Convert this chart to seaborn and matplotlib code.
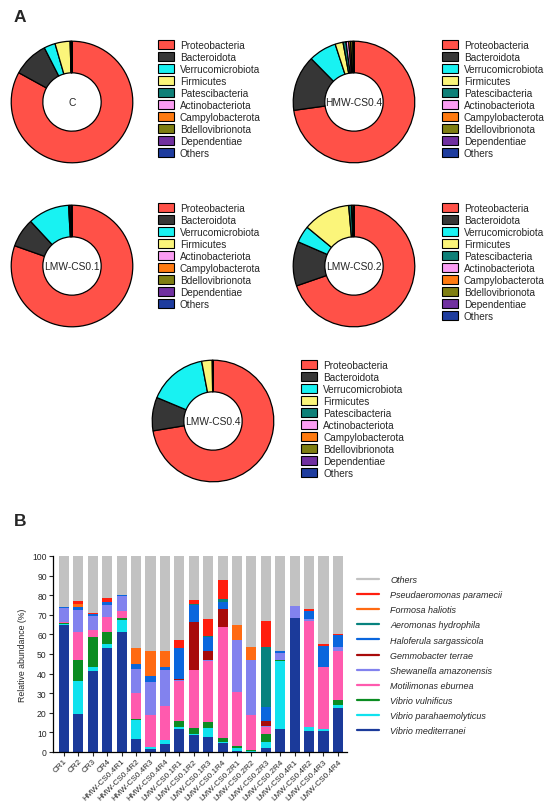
import matplotlib
matplotlib.use("Agg")

import matplotlib.pyplot as plt
import numpy as np
import seaborn as sns
from matplotlib.lines import Line2D
from matplotlib.patches import Patch

W, H = 550, 804

# ---- panel A: phylum composition (donuts) ----
PHYLA = ["Proteobacteria", "Bacteroidota", "Verrucomicrobiota", "Firmicutes",
         "Patescibacteria", "Actinobacteriota", "Campylobacterota",
         "Bdellovibrionota", "Dependentiae", "Others"]
PHYLA_NO_PATES = [p for p in PHYLA if p != "Patescibacteria"]
PHYLUM_COLORS = {
    "Proteobacteria": "#FF5148",
    "Bacteroidota": "#363636",
    "Verrucomicrobiota": "#18F2F2",
    "Firmicutes": "#FBF57A",
    "Patescibacteria": "#0E8078",
    "Actinobacteriota": "#FA9CF2",
    "Campylobacterota": "#FF7A10",
    "Bdellovibrionota": "#7E7E12",
    "Dependentiae": "#7030A0",
    "Others": "#1E3C9E",
}

donut_c = [83.0, 9.5, 3.0, 4.0, 0.2, 0.1, 0.1, 0.1, 0.0, 0.0]
donut_hmw04 = [72.8, 14.8, 7.4, 2.1, 0.8, 0.7, 0.5, 0.6, 0.2, 0.1]
donut_lmw01 = [80.4, 7.7, 11.0, 0.3, 0.0, 0.0, 0.1, 0.4, 0.1]
donut_lmw02 = [69.7, 11.8, 4.5, 12.6, 0.8, 0.1, 0.5, 0.0, 0.0, 0.0]
donut_lmw04 = [72.4, 8.9, 15.7, 2.8, 0.1, 0.0, 0.0, 0.1, 0.0, 0.0]

# ---- panel B: species relative abundance (%) ----
SAMPLES = ["CR1", "CR2", "CR3", "CR4",
           "HMW-CS0.4R1", "HMW-CS0.4R2", "HMW-CS0.4R3", "HMW-CS0.4R4",
           "LMW-CS0.1R1", "LMW-CS0.1R2", "LMW-CS0.1R3", "LMW-CS0.1R4",
           "LMW-CS0.2R1", "LMW-CS0.2R2", "LMW-CS0.2R3", "LMW-CS0.2R4",
           "LMW-CS0.4R1", "LMW-CS0.4R2", "LMW-CS0.4R3", "LMW-CS0.4R4"]

v_mediterranei = [65, 19.5, 41.5, 53, 61, 6.5, 1.5, 4, 11.5, 8.5, 7.8, 4.4, 0.3, 0.2, 1.9, 11.6, 68.3, 10.7, 10.7, 22.7]
v_parahaemolyticus = [0.3, 16.5, 2, 2, 6.5, 10, 0.8, 2.3, 1.5, 0.5, 4.6, 0.5, 1.7, 0.2, 3.0, 34.9, 0, 1.9, 0.9, 1.3]
v_vulnificus = [0.7, 11, 15, 6, 1, 0.3, 0, 0, 3, 3.5, 3.1, 2.1, 1.2, 0.5, 4.1, 0.5, 0, 0.4, 0, 2.4]
m_eburnea = [0.5, 14, 4, 8, 3.5, 13.2, 16.7, 17.2, 20, 29.5, 31, 57, 27.6, 18.1, 3.9, 0, 0, 54, 31.7, 24.9]
s_amazonensis = [7, 11.5, 7, 6, 7.5, 12.5, 16.5, 18.5, 0.5, 0, 0.5, 0, 26.4, 28.1, 0.5, 3.4, 6, 0.8, 0, 2.5]
g_terrae = [0, 0, 0, 0, 0, 0, 0, 0, 0.5, 24.5, 4.3, 9, 0, 0, 2.6, 0, 0, 0, 0, 0]
h_sargassicola = [0.3, 1.5, 0.8, 1.5, 0.5, 2.5, 3.5, 1.5, 16, 8.5, 7.3, 3.3, 0, 0, 6.8, 1.2, 0, 4.2, 11, 5.7]
a_hydrophila = [0, 0, 0, 0, 0, 0, 0, 0, 0, 0.5, 0.7, 1.7, 0, 0, 30.6, 0, 0, 0, 0, 0]
f_haliotis = [0, 1.5, 0.2, 0, 0, 8, 12.5, 8, 0, 0, 0, 0, 7.8, 6.5, 0, 0, 0, 0, 0, 0]
p_paramecii = [0.2, 1.5, 0.5, 2, 0, 0, 0, 0, 4, 2, 8.5, 9.6, 0, 0, 13.6, 0, 0, 1, 0.7, 0.5]
others = [26, 23, 29, 21.5, 20, 47, 48.5, 48.5, 43, 22.5, 32.2, 12.4, 35, 46.4, 33, 48.4, 25.7, 27, 45, 40]

# bottom -> top stacking order
SPECIES = [
    ("Vibrio mediterranei", v_mediterranei, "#1B3A9A"),
    ("Vibrio parahaemolyticus", v_parahaemolyticus, "#10E2EE"),
    ("Vibrio vulnificus", v_vulnificus, "#0B8C22"),
    ("Motilimonas eburnea", m_eburnea, "#FF5AAE"),
    ("Shewanella amazonensis", s_amazonensis, "#8282EE"),
    ("Gemmobacter terrae", g_terrae, "#A80A0A"),
    ("Haloferula sargassicola", h_sargassicola, "#0A66DD"),
    ("Aeromonas hydrophila", a_hydrophila, "#07827E"),
    ("Formosa haliotis", f_haliotis, "#FF6A12"),
    ("Pseudaeromonas paramecii", p_paramecii, "#FF1E0E"),
    ("Others", others, "#C2C2C2"),
]


def px_axes(fig, left, top, width, height):
    return fig.add_axes([left / W, 1 - (top + height) / H, width / W, height / H])


def draw_donut(fig, cx, cy, r, values, labels, center_text, leg_x, leg_y):
    ax = px_axes(fig, cx - r, cy - r, 2 * r, 2 * r)
    colors = [PHYLUM_COLORS[p] for p in labels]
    ax.pie(values, colors=colors, startangle=90, counterclock=False,
           wedgeprops=dict(width=0.52, edgecolor="black", linewidth=0.9))
    ax.set_xlim(-1.02, 1.02)
    ax.set_ylim(-1.02, 1.02)
    ax.set_aspect("equal")
    ax.text(0, 0, center_text, ha="center", va="center", fontsize=7.4)
    handles = [Patch(facecolor=PHYLUM_COLORS[p], edgecolor="black", linewidth=0.8)
               for p in labels]
    fig.legend(handles, labels, loc="upper left",
               bbox_to_anchor=(leg_x / W, 1 - leg_y / H),
               frameon=False, fontsize=7.2, borderpad=0, borderaxespad=0,
               handlelength=1.6, handleheight=0.9, handletextpad=0.6,
               labelspacing=0.2)


def main():
    sns.set_theme(style="ticks")
    plt.rcParams["font.family"] = ["Liberation Sans", "DejaVu Sans"]

    fig = plt.figure(figsize=(W / 100, H / 100), dpi=100)

    fig.text(14 / W, 1 - 18 / H, "A", fontsize=12.5, fontweight="bold", va="center")
    fig.text(14 / W, 1 - 522 / H, "B", fontsize=12.5, fontweight="bold", va="center")

    draw_donut(fig, 72, 103, 62, donut_c, PHYLA, "C", 158, 41)
    draw_donut(fig, 354, 103, 62, donut_hmw04, PHYLA, "HMW-CS0.4", 442, 41)
    draw_donut(fig, 72, 267, 62, donut_lmw01, PHYLA_NO_PATES, "LMW-CS0.1", 158, 204)
    draw_donut(fig, 354, 267, 62, donut_lmw02, PHYLA, "LMW-CS0.2", 442, 204)
    draw_donut(fig, 213, 422, 62, donut_lmw04, PHYLA, "LMW-CS0.4", 301, 361)

    # stacked bars
    ax = px_axes(fig, 53, 557, 294, 196)
    bottom = np.zeros(len(SAMPLES))
    for name, vals, color in SPECIES:
        sns.barplot(x=SAMPLES, y=vals, order=SAMPLES, color=color, width=0.7,
                    bottom=bottom, linewidth=0, saturation=1, ax=ax)
        bottom = bottom + np.array(vals)

    ax.set_xlim(-0.76, 19.63)
    ax.set_ylim(0, 100)
    ax.set_yticks(np.arange(0, 101, 10))
    ax.set_ylabel("Relative abundance (%)", fontsize=6.3, labelpad=4)
    ax.set_xlabel("")
    ax.tick_params(axis="y", labelsize=6.2, length=3, width=0.8, pad=1.5)
    ax.tick_params(axis="x", labelsize=5.9, length=3, width=0.8, pad=1)
    plt.setp(ax.get_xticklabels(), rotation=45, ha="right", rotation_mode="anchor")
    sns.despine(ax=ax)
    for s in ("left", "bottom"):
        ax.spines[s].set_linewidth(0.9)
        ax.spines[s].set_color("black")

    leg_handles = [Line2D([0], [0], color=c, lw=1.6) for _, _, c in SPECIES[::-1]]
    leg_labels = [n for n, _, _ in SPECIES[::-1]]
    fig.legend(leg_handles, leg_labels, loc="upper left",
               bbox_to_anchor=(357 / W, 1 - 576 / H), frameon=False,
               prop=dict(size=6.5, style="italic"), borderpad=0, borderaxespad=0,
               handlelength=2.4, handletextpad=1.3, labelspacing=0.68)

    fig.savefig("out.png", dpi=100)
    plt.close(fig)


if __name__ == "__main__":
    main()
